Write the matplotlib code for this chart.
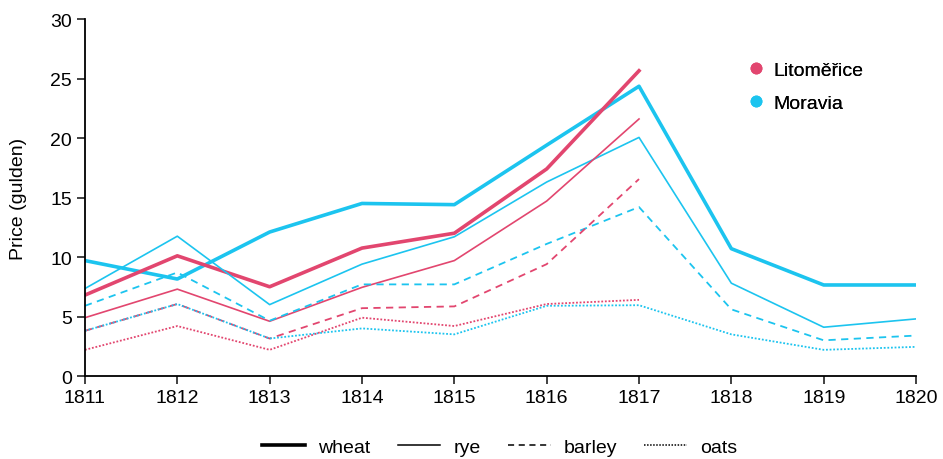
import matplotlib.pyplot as plt
from matplotlib.lines import Line2D

plt.rcParams['font.family'] = ['Liberation Sans', 'DejaVu Sans']

years = [1811, 1812, 1813, 1814, 1815, 1816, 1817, 1818, 1819, 1820]
years_lit = years[:7]

# Litoměřice prices (1811-1817)
lit_wheat = [6.8, 10.1, 7.5, 10.75, 12.0, 17.4, 25.65]
lit_rye = [4.9, 7.3, 4.6, 7.45, 9.7, 14.7, 21.6]
lit_barley = [3.8, 6.05, 3.15, 5.7, 5.85, 9.4, 16.55]
lit_oats = [2.2, 4.2, 2.2, 4.9, 4.2, 6.05, 6.4]

# Moravia prices (1811-1820)
mor_wheat = [9.7, 8.15, 12.1, 14.5, 14.4, 19.4, 24.35, 10.7, 7.65, 7.65]
mor_rye = [7.35, 11.75, 6.0, 9.4, 11.7, 16.3, 20.05, 7.8, 4.1, 4.8]
mor_barley = [5.9, 8.7, 4.65, 7.7, 7.7, 11.1, 14.2, 5.6, 3.0, 3.4]
mor_oats = [3.8, 6.05, 3.15, 4.0, 3.5, 5.9, 5.95, 3.5, 2.2, 2.45]

pink = '#e2466f'
cyan = '#1cc4ef'

fig = plt.figure(figsize=(9.43, 4.6), dpi=100)
ax = fig.add_axes([0.0901, 0.1804, 0.8813, 0.7761])

# grain -> line style, width
styles = {
    'wheat': ('-', 2.6),
    'rye': ('-', 1.2),
    'barley': ((0, (4, 3)), 1.3),
    'oats': ((0, (1, 1)), 1.3),
}

lit = {'wheat': lit_wheat, 'rye': lit_rye, 'barley': lit_barley, 'oats': lit_oats}
mor = {'wheat': mor_wheat, 'rye': mor_rye, 'barley': mor_barley, 'oats': mor_oats}

for grain, (ls, lw) in styles.items():
    ax.plot(years, mor[grain], color=cyan, linestyle=ls, linewidth=lw)
    ax.plot(years_lit, lit[grain], color=pink, linestyle=ls, linewidth=lw)

ax.set_xlim(1811, 1820)
ax.set_ylim(0, 30)
ax.set_xticks(years)
ax.set_yticks(range(0, 31, 5))
ax.spines['top'].set_visible(False)
ax.spines['right'].set_visible(False)
ax.spines['left'].set_linewidth(1.3)
ax.spines['bottom'].set_linewidth(1.3)
ax.tick_params(axis='both', labelsize=14, width=1.3, length=6, color='#333333')
ax.set_ylabel('Price (gulden)', fontsize=14)
ax.yaxis.set_label_coords(-0.07, 0.5)

# region legend (dots)
region_handles = [
    Line2D([], [], marker='o', color=pink, linestyle='none', markersize=7.5),
    Line2D([], [], marker='o', color=cyan, linestyle='none', markersize=7.5),
]
leg1 = ax.legend(region_handles, ['Litoměřice', 'Moravia'], loc='upper left',
                 bbox_to_anchor=(0.775, 0.93), frameon=False, fontsize=14,
                 handlelength=1.0, handletextpad=0.4, labelspacing=0.8)
ax.add_artist(leg1)

# grain legend (line styles)
grain_handles = [Line2D([], [], color='black', linestyle=ls, linewidth=lw if lw > 2 else 1.1)
                 for ls, lw in styles.values()]
fig.legend(grain_handles, list(styles.keys()), loc='center', ncol=4,
           bbox_to_anchor=(0.530, 0.026), frameon=False, fontsize=14,
           handlelength=2.2, columnspacing=1.4, handletextpad=0.67)

fig.savefig('out.png', dpi=100)
